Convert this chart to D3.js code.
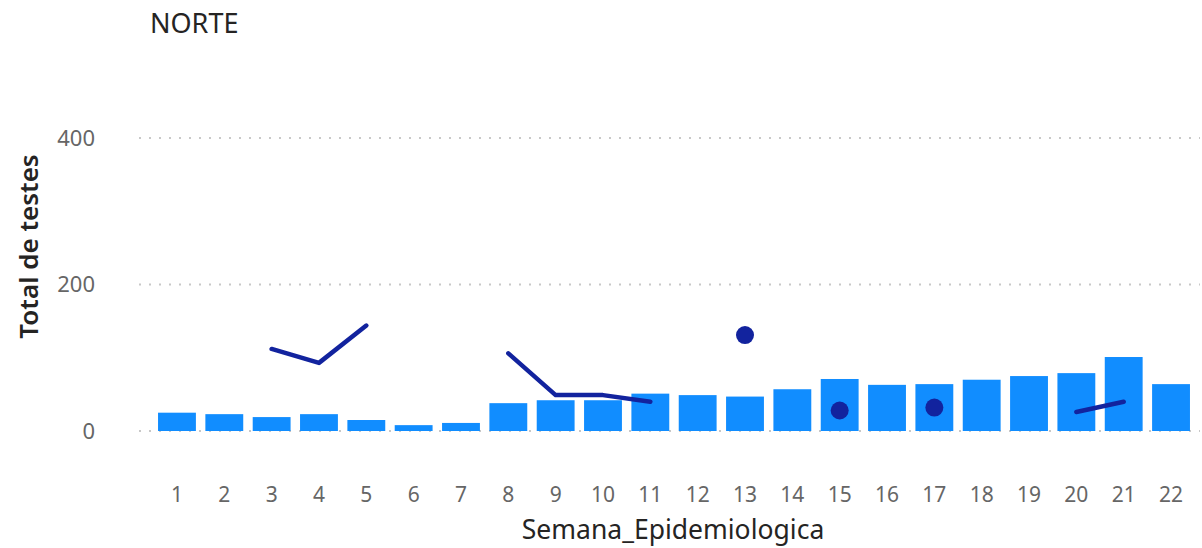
<!DOCTYPE html>
<html>
<head>
<meta charset="utf-8">
<script src="https://cdn.jsdelivr.net/npm/d3@7"></script>
<style>
  html, body { margin: 0; padding: 0; background: #fff; }
  svg { display: block; }
</style>
</head>
<body>
<svg id="chart" width="1202" height="548"></svg>
<script>
const weeks = ["1","2","3","4","5","6","7","8","9","10","11","12","13","14","15","16","17","18","19","20","21","22"];
const barValues = [25, 23, 19, 23, 15, 8, 11, 38, 42, 42, 51, 49, 47, 57, 71, 63, 64, 70, 75, 79, 101, 64];
const lineValues = [null, null, 112, 93, 144, null, null, 106, 49, 49, 40, null, 131, null, 28, null, 32, null, null, 26, 40, null];
const yTicks = [0, 200, 400];
const titleText = "NORTE";
const xTitle = "Semana_Epidemiologica";
const yTitle = "Total de testes";

const svg = d3.select("#chart");
const font = "'Noto Sans', 'Open Sans', sans-serif";

const x = d3.scaleBand().domain(weeks).range([153.3, 1194.7]).paddingInner(0.2).paddingOuter(0.1);
const y = d3.scaleLinear().domain([0, 400]).range([431, 138]);

// gridlines
svg.append("g").selectAll("line").data(yTicks).join("line")
  .attr("x1", 139).attr("x2", 1200)
  .attr("y1", d => y(d)).attr("y2", d => y(d))
  .attr("stroke", "#c8c8c8").attr("stroke-width", 2)
  .attr("stroke-dasharray", "2,8");

// y axis labels
svg.append("g").selectAll("text").data(yTicks).join("text")
  .attr("x", 95).attr("y", d => y(d)).attr("dy", "0.35em")
  .attr("text-anchor", "end")
  .attr("font-family", font).attr("font-size", 22).attr("fill", "#666666")
  .text(d => d);

// bars
svg.append("g").selectAll("rect").data(weeks).join("rect")
  .attr("x", d => x(d)).attr("width", x.bandwidth())
  .attr("y", (d, i) => y(barValues[i]))
  .attr("height", (d, i) => y(0) - y(barValues[i]))
  .attr("fill", "#118DFF");

// line
const pts = weeks.map((w, i) => ({w, v: lineValues[i], i}));
const cx = d => x(d.w) + x.bandwidth() / 2;
const line = d3.line().defined(d => d.v !== null).x(cx).y(d => y(d.v));
svg.append("path").datum(pts)
  .attr("d", line)
  .attr("fill", "none").attr("stroke", "#12239E").attr("stroke-width", 4.5)
  .attr("stroke-linecap", "round").attr("stroke-linejoin", "round");

const isolated = pts.filter(d => d.v !== null &&
  (d.i === 0 || lineValues[d.i - 1] === null) &&
  (d.i === weeks.length - 1 || lineValues[d.i + 1] === null));
svg.append("g").selectAll("circle").data(isolated).join("circle")
  .attr("cx", cx).attr("cy", d => y(d.v)).attr("r", 9)
  .attr("fill", "#12239E");

// x tick labels
svg.append("g").selectAll("text").data(weeks).join("text")
  .attr("x", d => x(d) + x.bandwidth() / 2).attr("y", 494.5).attr("dy", "0.35em")
  .attr("text-anchor", "middle")
  .attr("font-family", font).attr("font-size", 21).attr("fill", "#666666")
  .text(d => d);

// axis titles
svg.append("text")
  .attr("x", 673).attr("y", 530).attr("dy", "0.35em")
  .attr("text-anchor", "middle")
  .attr("font-family", font).attr("font-size", 26.5).attr("fill", "#252423")
  .text(xTitle);

svg.append("text")
  .attr("transform", "translate(29,246.5) rotate(-90)")
  .attr("dy", "0.35em")
  .attr("text-anchor", "middle")
  .attr("font-family", font).attr("font-size", 26).attr("font-weight", 600).attr("fill", "#252423")
  .text(yTitle);

// title
svg.append("text")
  .attr("x", 150).attr("y", 24).attr("dy", "0.35em")
  .attr("font-family", font).attr("font-size", 27).attr("fill", "#252423")
  .text(titleText);
</script>
</body>
</html>
